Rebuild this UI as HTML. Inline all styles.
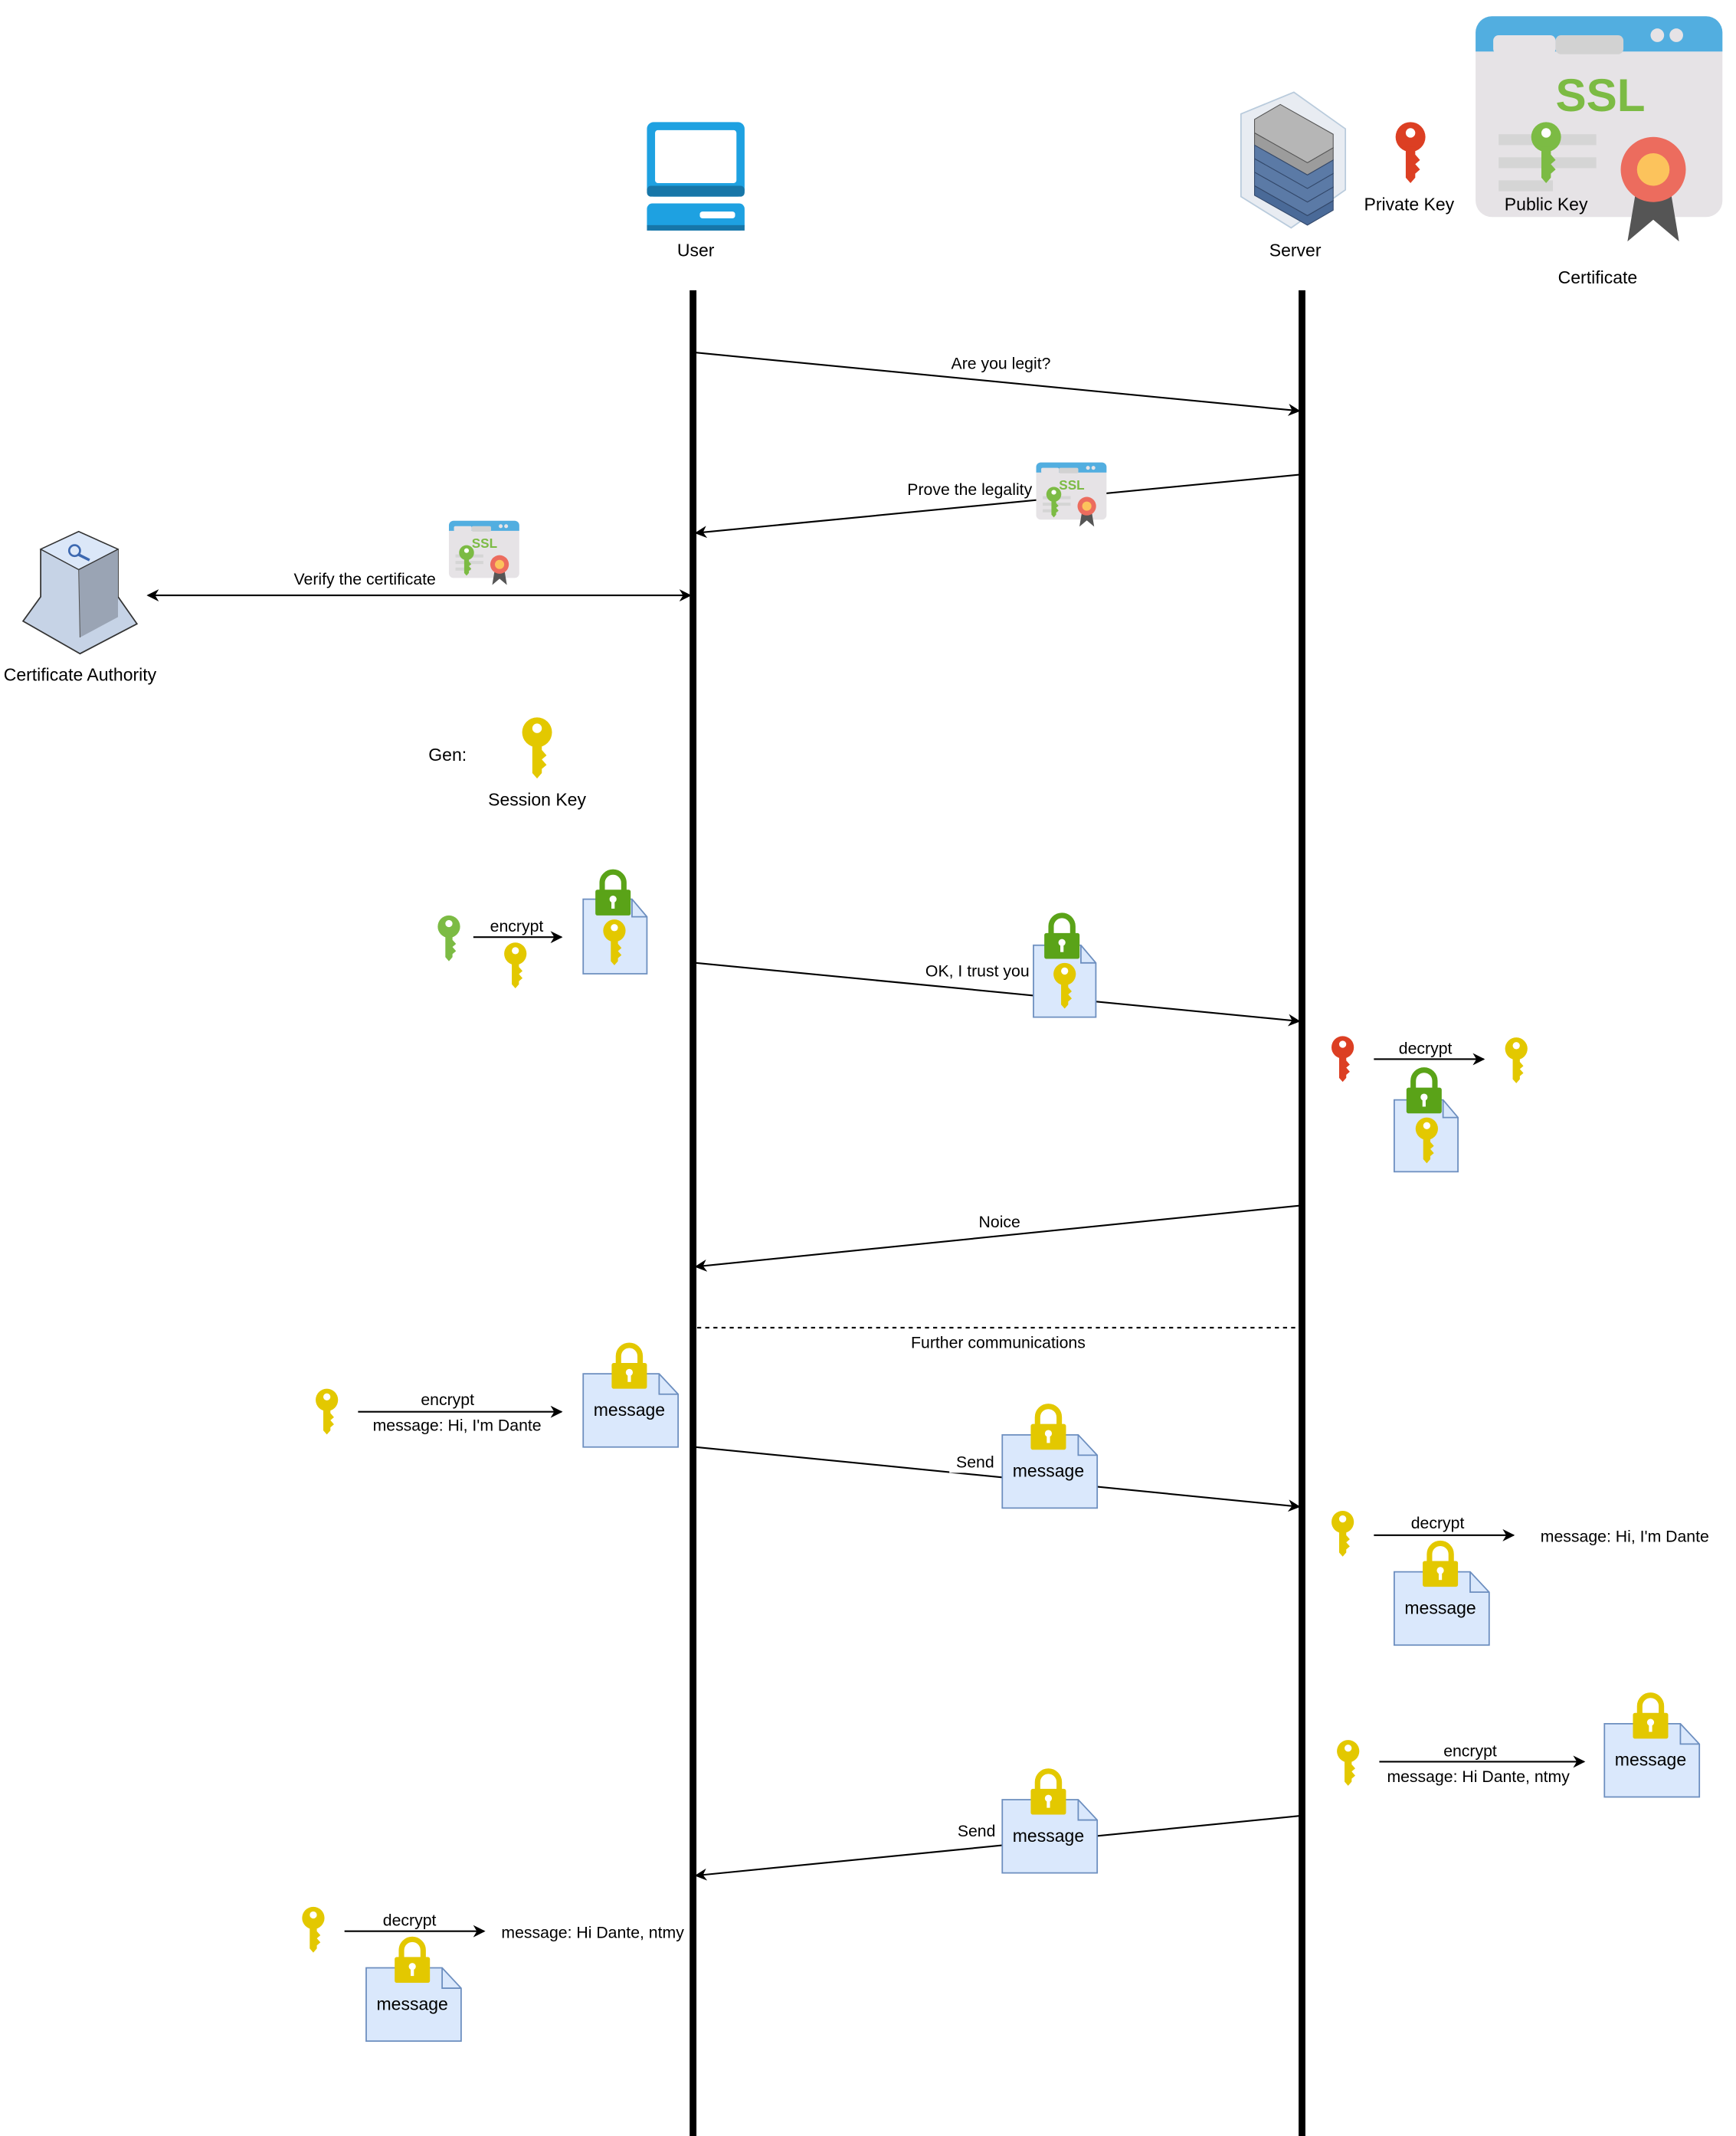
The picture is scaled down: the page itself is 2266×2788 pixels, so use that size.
<!DOCTYPE html>
<html><head><meta charset="utf-8"><style>
html,body{margin:0;padding:0;background:#fff;}
svg{display:block;}
text{font-family:"Liberation Sans",Arial,sans-serif;fill:#000;}
</style></head><body>
<svg width="2266" height="2788" viewBox="0 0 1280 1575" preserveAspectRatio="none" xmlns="http://www.w3.org/2000/svg">
<defs>
  <g id="key">
    <circle cx="0" cy="11" r="11" fill="currentColor"/>
    <path d="M-3.5 18 H3.5 V24 L7 28 L3.5 31 L7 35 L3.5 38 V41 L0 45 L-3.5 41 Z" fill="currentColor"/>
    <circle cx="0" cy="8" r="3.5" fill="#fff"/>
  </g>
  <g id="lock">
    <path d="M-8 15 V9 a8 8 0 0 1 16 0 V15" fill="none" stroke="currentColor" stroke-width="4"/>
    <rect x="-13" y="14" width="26" height="19" rx="1.5" fill="currentColor"/>
    <circle cx="0" cy="21" r="2.6" fill="#fff"/>
    <rect x="-1.2" y="21" width="2.4" height="7" fill="#fff"/>
  </g>
  <g id="cert">
    <rect x="0" y="0" width="182" height="148" rx="12" fill="#e6e3e6"/>
    <path d="M12 0 H170 a12 12 0 0 1 12 12 V26 H0 V12 a12 12 0 0 1 12 -12 Z" fill="#52aee0"/>
    <rect x="13" y="14" width="46" height="14" rx="4" fill="#e6e3e6"/>
    <rect x="59" y="14" width="50" height="14" rx="4" fill="#d2d2d2"/>
    <circle cx="134" cy="14" r="5" fill="#e6e3e6"/><circle cx="148" cy="14" r="5" fill="#e6e3e6"/>
    <text x="92" y="70" font-size="34" font-weight="bold" text-anchor="middle" style="fill:#7cbb44">SSL</text>
    <rect x="17" y="87" width="72" height="8" fill="#d5d5d5"/>
    <rect x="17" y="104" width="72" height="8" fill="#d5d5d5"/>
    <rect x="17" y="121" width="40" height="8" fill="#d5d5d5"/>
    <path d="M118 130 L112 166 L131 150 L150 166 L144 130 Z" fill="#555"/>
    <circle cx="131" cy="113" r="24" fill="#ec6c5e"/>
    <circle cx="131" cy="113" r="12" fill="#fcc35c"/>
  </g>
  <g id="scert">
    <use href="#cert" transform="scale(0.285)"/>
    <use href="#key" style="color:#7cbb44" transform="translate(13,18) scale(0.5)"/>
  </g>
  <marker id="ah" viewBox="0 0 10 10" refX="9" refY="5" markerWidth="9" markerHeight="9" orient="auto-start-reverse" markerUnits="userSpaceOnUse">
    <path d="M0 0 L10 5 L0 10 L3 5 Z" fill="#000"/>
  </marker>
</defs>

<!-- User icon -->
<rect x="477" y="90" width="72" height="55" rx="5" fill="#1ea1e1"/>
<rect x="477" y="137" width="72" height="8" rx="3" fill="#1776a8"/>
<rect x="483" y="96" width="60" height="39" rx="2" fill="#fff"/>
<rect x="477" y="150" width="72" height="20" rx="4" fill="#1ea1e1"/>
<rect x="477" y="166" width="72" height="4" fill="#1776a8"/>
<rect x="516" y="156" width="26" height="5" rx="2" fill="#fff"/>
<text x="513" y="189" font-size="13" text-anchor="middle">User</text>

<!-- Server icon -->
<path d="M954 68 L992 95 V140 L952 168 L915 145 V84 Z" fill="#e8ecf2" stroke="#b9cbdc" stroke-width="1"/>
<g>
  <path d="M925 88 L944 77 L983 99 L983 109 L964 120 L925 98 Z" fill="#b6b6b6" stroke="#555" stroke-width="0.6"/>
  <path d="M925 98 L964 120 L983 109 L983 118 L964 129 L925 107 Z" fill="#9c9c9c" stroke="#555" stroke-width="0.6"/>
  <path d="M925 107 L964 129 L983 118 L983 128 L964 139 L925 117 Z" fill="#5b7aa6" stroke="#33486a" stroke-width="0.6"/>
  <path d="M925 117 L964 139 L983 128 L983 138 L964 149 L925 127 Z" fill="#5b7aa6" stroke="#33486a" stroke-width="0.6"/>
  <path d="M925 127 L964 149 L983 138 L983 148 L964 159 L925 137 Z" fill="#5b7aa6" stroke="#33486a" stroke-width="0.6"/>
  <path d="M925 137 L964 159 L983 148 L983 155 L964 166 L925 144 Z" fill="#4a6a98" stroke="#33486a" stroke-width="0.6"/>
</g>
<text x="955" y="189" font-size="13" text-anchor="middle">Server</text>

<use href="#key" style="color:#dc3f23" transform="translate(1040,90)"/>
<use href="#cert" transform="translate(1088,12)"/>
<use href="#key" style="color:#7cbb44" transform="translate(1140,90)"/>
<text x="1039" y="155" font-size="13" text-anchor="middle">Private Key</text>
<text x="1140" y="155" font-size="13" text-anchor="middle">Public Key</text>
<text x="1178" y="209" font-size="13" text-anchor="middle">Certificate</text>

<!-- lifelines -->
<line x1="511" y1="214" x2="511" y2="1575" stroke="#000" stroke-width="5"/>
<line x1="960" y1="214" x2="960" y2="1575" stroke="#000" stroke-width="5"/>

<!-- Are you legit -->
<line x1="513" y1="260" x2="958" y2="303" stroke="#000" stroke-width="1.2" marker-end="url(#ah)"/>
<text x="738" y="272" font-size="12" text-anchor="middle">Are you legit?</text>

<!-- Prove legality -->
<line x1="958" y1="350" x2="513" y2="393" stroke="#000" stroke-width="1.2" marker-end="url(#ah)"/>
<rect x="620" y="350" width="143" height="18" fill="#fff"/>
<text x="761" y="365" font-size="12" text-anchor="end">Prove the legality</text>
<use href="#scert" transform="translate(764,341)"/>

<!-- Verify -->
<line x1="109" y1="439" x2="509" y2="439" stroke="#000" stroke-width="1.2" marker-start="url(#ah)" marker-end="url(#ah)"/>
<text x="269" y="431" font-size="12" text-anchor="middle">Verify the certificate</text>
<use href="#scert" transform="translate(331,384)"/>

<!-- CA icon -->
<path d="M30 405 L58 392 L87 405 V440 L101 460 L59 482 L17 458 L30 440 Z" fill="#c6d3e6" stroke="#333" stroke-width="1"/>
<path d="M58 420 L87 405 V455 L59 470 Z" fill="#9aa4b4"/>
<path d="M30 405 L58 392 L87 405 L58 420 Z" fill="#dbe7f8" stroke="#333" stroke-width="0.8"/>
<line x1="58" y1="420" x2="59" y2="470" stroke="#555" stroke-width="0.6"/>
<circle cx="55" cy="406" r="4" fill="none" stroke="#3c68b0" stroke-width="1.5"/>
<line x1="58" y1="409" x2="66" y2="413" stroke="#3c68b0" stroke-width="2"/>
<text x="59" y="502" font-size="13" text-anchor="middle">Certificate Authority</text>

<!-- Gen -->
<text x="330" y="561" font-size="13" text-anchor="middle">Gen:</text>
<use href="#key" style="color:#e3c800" transform="translate(396,529)"/>
<text x="396" y="594" font-size="13" text-anchor="middle">Session Key</text>

<!-- User encrypt session key -->
<use href="#key" style="color:#7cbb44" transform="translate(331,675) scale(0.75)"/>
<line x1="349" y1="691" x2="414" y2="691" stroke="#000" stroke-width="1.2" marker-end="url(#ah)"/>
<text x="381" y="687" font-size="12" text-anchor="middle">encrypt</text>
<use href="#key" style="color:#e3c800" transform="translate(380,695) scale(0.75)"/>
<g>
  <path d="M430 663 H466 L477 676 V718 H430 Z" fill="#dae8fc" stroke="#6c8ebf"/>
  <path d="M466 663 V676 H477" fill="none" stroke="#6c8ebf"/>
  <use href="#lock" style="color:#5aa318" transform="translate(452,642)"/>
  <use href="#key" style="color:#e3c800" transform="translate(453,678) scale(0.75)"/>
</g>

<!-- OK I trust you -->
<line x1="513" y1="710" x2="958" y2="753" stroke="#000" stroke-width="1.2" marker-end="url(#ah)"/>
<rect x="676" y="706" width="85" height="18" fill="#fff"/>
<text x="759" y="720" font-size="12" text-anchor="end">OK, I trust you</text>
<g>
  <path d="M762 697 H797 L808 710 V750 H762 Z" fill="#dae8fc" stroke="#6c8ebf"/>
  <path d="M797 697 V710 H808" fill="none" stroke="#6c8ebf"/>
  <use href="#lock" style="color:#5aa318" transform="translate(783,674)"/>
  <use href="#key" style="color:#e3c800" transform="translate(785,710) scale(0.75)"/>
</g>

<!-- server decrypt -->
<use href="#key" style="color:#dc3f23" transform="translate(990,764) scale(0.75)"/>
<line x1="1013" y1="781" x2="1094" y2="781" stroke="#000" stroke-width="1.2" marker-end="url(#ah)"/>
<text x="1051" y="777" font-size="12" text-anchor="middle">decrypt</text>
<use href="#key" style="color:#e3c800" transform="translate(1118,765) scale(0.75)"/>
<g>
  <path d="M1028 811 H1064 L1075 824 V864 H1028 Z" fill="#dae8fc" stroke="#6c8ebf"/>
  <path d="M1064 811 V824 H1075" fill="none" stroke="#6c8ebf"/>
  <use href="#lock" style="color:#5aa318" transform="translate(1050,788)"/>
  <use href="#key" style="color:#e3c800" transform="translate(1052,824) scale(0.75)"/>
</g>

<!-- Noice -->
<line x1="958" y1="889" x2="513" y2="934" stroke="#000" stroke-width="1.2" marker-end="url(#ah)"/>
<text x="737" y="905" font-size="12" text-anchor="middle">Noice</text>

<!-- Further -->
<line x1="514" y1="979" x2="958" y2="979" stroke="#000" stroke-width="1.2" stroke-dasharray="3,3"/>
<text x="736" y="994" font-size="12" text-anchor="middle">Further communications</text>

<!-- User encrypt message -->
<use href="#key" style="color:#e3c800" transform="translate(241,1024) scale(0.75)"/>
<line x1="264" y1="1041" x2="414" y2="1041" stroke="#000" stroke-width="1.2" marker-end="url(#ah)"/>
<text x="330" y="1036" font-size="12" text-anchor="middle">encrypt</text>
<text x="337" y="1055" font-size="12" text-anchor="middle">message: Hi, I'm Dante</text>
<g transform="translate(430,1013)">
  <path d="M0 0 H56 L70 15 V54 H0 Z" fill="#dae8fc" stroke="#6c8ebf"/>
  <path d="M56 0 V15 H70" fill="none" stroke="#6c8ebf"/>
  <use href="#lock" style="color:#e3c800" transform="translate(34,-22)"/>
  <text x="34" y="31" font-size="13" text-anchor="middle">message</text>
</g>

<!-- Send 1 -->
<line x1="513" y1="1067" x2="958" y2="1111" stroke="#000" stroke-width="1.2" marker-end="url(#ah)"/>
<rect x="700" y="1068" width="38" height="18" fill="#fff"/>
<text x="719" y="1082" font-size="12" text-anchor="middle">Send</text>
<g transform="translate(739,1058)">
  <path d="M0 0 H56 L70 15 V54 H0 Z" fill="#dae8fc" stroke="#6c8ebf"/>
  <path d="M56 0 V15 H70" fill="none" stroke="#6c8ebf"/>
  <use href="#lock" style="color:#e3c800" transform="translate(34,-22)"/>
  <text x="34" y="31" font-size="13" text-anchor="middle">message</text>
</g>

<!-- server decrypt msg -->
<use href="#key" style="color:#e3c800" transform="translate(990,1114) scale(0.75)"/>
<line x1="1013" y1="1132" x2="1116" y2="1132" stroke="#000" stroke-width="1.2" marker-end="url(#ah)"/>
<text x="1060" y="1127" font-size="12" text-anchor="middle">decrypt</text>
<text x="1198" y="1137" font-size="12" text-anchor="middle">message: Hi, I'm Dante</text>
<g transform="translate(1028,1159)">
  <path d="M0 0 H56 L70 15 V54 H0 Z" fill="#dae8fc" stroke="#6c8ebf"/>
  <path d="M56 0 V15 H70" fill="none" stroke="#6c8ebf"/>
  <use href="#lock" style="color:#e3c800" transform="translate(34,-22)"/>
  <text x="34" y="31" font-size="13" text-anchor="middle">message</text>
</g>

<!-- server encrypt reply -->
<use href="#key" style="color:#e3c800" transform="translate(994,1283) scale(0.75)"/>
<line x1="1017" y1="1299" x2="1168" y2="1299" stroke="#000" stroke-width="1.2" marker-end="url(#ah)"/>
<text x="1084" y="1295" font-size="12" text-anchor="middle">encrypt</text>
<text x="1090" y="1314" font-size="12" text-anchor="middle">message: Hi Dante, ntmy</text>
<g transform="translate(1183,1271)">
  <path d="M0 0 H56 L70 15 V54 H0 Z" fill="#dae8fc" stroke="#6c8ebf"/>
  <path d="M56 0 V15 H70" fill="none" stroke="#6c8ebf"/>
  <use href="#lock" style="color:#e3c800" transform="translate(34,-22)"/>
  <text x="34" y="31" font-size="13" text-anchor="middle">message</text>
</g>

<!-- Send 2 -->
<line x1="958" y1="1339" x2="513" y2="1383" stroke="#000" stroke-width="1.2" marker-end="url(#ah)"/>
<rect x="701" y="1341" width="38" height="18" fill="#fff"/>
<text x="720" y="1354" font-size="12" text-anchor="middle">Send</text>
<g transform="translate(739,1327)">
  <path d="M0 0 H56 L70 15 V54 H0 Z" fill="#dae8fc" stroke="#6c8ebf"/>
  <path d="M56 0 V15 H70" fill="none" stroke="#6c8ebf"/>
  <use href="#lock" style="color:#e3c800" transform="translate(34,-22)"/>
  <text x="34" y="31" font-size="13" text-anchor="middle">message</text>
</g>

<!-- user decrypt -->
<use href="#key" style="color:#e3c800" transform="translate(231,1406) scale(0.75)"/>
<line x1="254" y1="1424" x2="357" y2="1424" stroke="#000" stroke-width="1.2" marker-end="url(#ah)"/>
<text x="302" y="1420" font-size="12" text-anchor="middle">decrypt</text>
<text x="437" y="1429" font-size="12" text-anchor="middle">message: Hi Dante, ntmy</text>
<g transform="translate(270,1451)">
  <path d="M0 0 H56 L70 15 V54 H0 Z" fill="#dae8fc" stroke="#6c8ebf"/>
  <path d="M56 0 V15 H70" fill="none" stroke="#6c8ebf"/>
  <use href="#lock" style="color:#e3c800" transform="translate(34,-22)"/>
  <text x="34" y="31" font-size="13" text-anchor="middle">message</text>
</g>
</svg>
</body></html>
